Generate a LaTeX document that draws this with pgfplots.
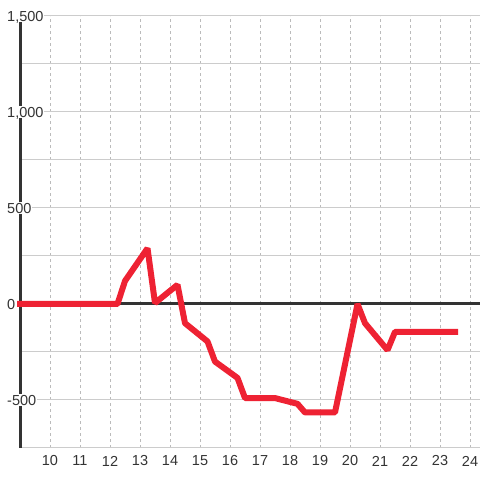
\documentclass[border=0pt]{standalone}
\usepackage{pgfplots}
\pgfplotsset{compat=1.18}
\usepackage{fontspec}
\setmainfont{Liberation Sans}
\definecolor{redline}{HTML}{EE2233}
\definecolor{axisdark}{HTML}{333333}
\definecolor{gridc}{HTML}{CCCCCC}
\definecolor{gridv}{HTML}{BBBBBB}
\begin{document}
\fontsize{14}{17}\selectfont
\begin{tikzpicture}
\begin{axis}[
 set layers,
 at={(20pt,32pt)}, anchor=south west,
 width=460pt, height=432pt, scale only axis,
 xmin=9, xmax=24.333, ymin=-750, ymax=1500,
 axis line style={draw=none},
 xtick={10,...,24}, ytick={-500,0,500,1000,1500},
 minor ytick={-750,-250,250,750,1250},
 major tick length=0pt, minor tick length=0pt,
 xmajorgrids, ymajorgrids, yminorgrids,
 x grid style={gridv, dash pattern=on 3pt off 3pt, line width=0.8pt},
 y grid style={gridc, line width=1pt},
 minor y grid style={gridc, line width=1pt},
 tick label style={font=\fontsize{14.5}{17}\selectfont, text=axisdark},
 /pgf/number format/assume math mode=true,
 /pgf/number format/1000 sep={,},
 yticklabel style={font=\fontsize{14.5}{17}\selectfont, anchor=west, xshift=-14pt, fill=white, inner sep=1pt, text depth=0pt},
 xticklabel style={font=\fontsize{14.5}{17}\selectfont, anchor=center, yshift=-13pt},
 clip=false,
]
\begin{pgfonlayer}{axis lines}
\draw[axisdark, line width=3pt] (axis cs:9,-750) -- (axis cs:9,1500);
\draw[axisdark, line width=3pt] (axis cs:9,0) -- (axis cs:24.333,0);
\end{pgfonlayer}
\addplot[redline, line width=6pt, line join=bevel, line cap=rect] coordinates {
(9,0) (12.25,0) (12.5,120) (13.25,290) (13.5,5) (14.25,100) (14.5,-100)
(15.25,-195) (15.5,-300) (16.25,-385) (16.5,-490) (17.5,-490) (18.25,-520)
(18.5,-565) (19.5,-565) (20.25,0) (20.5,-100) (21.25,-240) (21.5,-145) (23.5,-145)
};
\end{axis}
\pgfresetboundingbox
\useasboundingbox (0pt,0pt) rectangle (480pt,480pt);
\end{tikzpicture}
\end{document}
